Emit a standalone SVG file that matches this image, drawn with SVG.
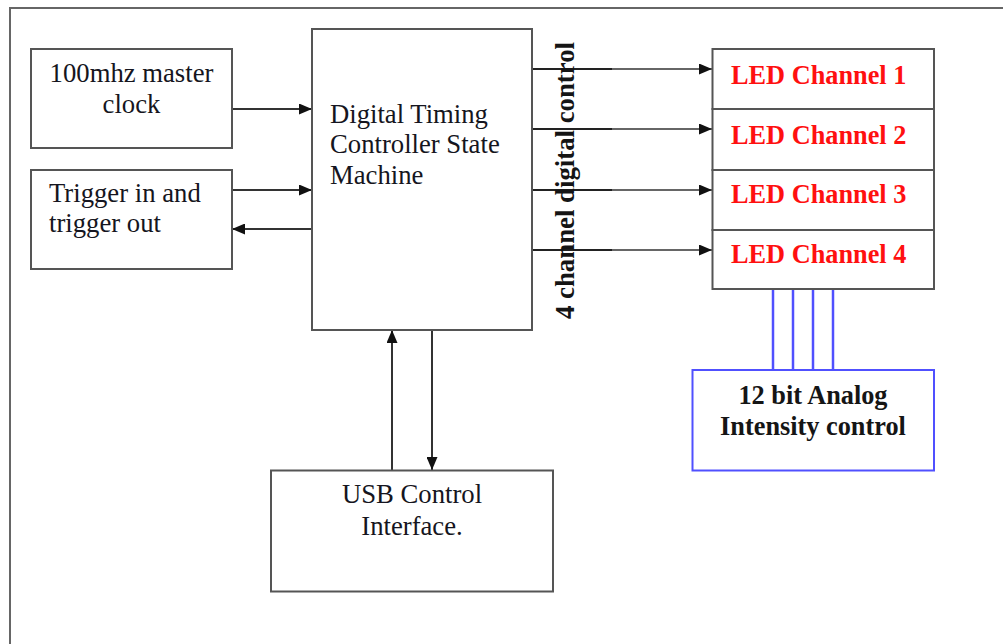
<svg xmlns="http://www.w3.org/2000/svg" width="1003" height="644" viewBox="0 0 1003 644">
<defs>
<style>
.box{fill:#fff;stroke:#555;stroke-width:2}
.frame{fill:none;stroke:#666;stroke-width:2}
.t{font-family:"Liberation Serif","Times New Roman",serif;font-size:26.7px;fill:#151520}
.b{font-family:"Liberation Serif","Times New Roman",serif;font-size:26.3px;font-weight:bold}
.red{fill:#ff1010}
.blk{fill:#151515}
.c{stroke:#333;stroke-width:2;fill:none}
.cd{stroke:#222;stroke-width:2.2;fill:none}
.cl{stroke:#666;stroke-width:2;fill:none}
.blue{stroke:#5050ff;stroke-width:2.5;fill:none}
.bluebox{fill:#fff;stroke:#5050ff;stroke-width:2}
</style>
<marker id="arr" markerUnits="userSpaceOnUse" markerWidth="13" markerHeight="11" refX="13" refY="5.5" orient="auto">
<path d="M0,0 L13,5.5 L0,11 z" fill="#111"/>
</marker>
</defs>
<rect class="frame" x="10" y="8" width="1010" height="700"/>

<g id="connectors">
<line class="c" x1="232" y1="109" x2="312" y2="109" marker-end="url(#arr)"/>
<line class="c" x1="232" y1="190" x2="312" y2="190" marker-end="url(#arr)"/>
<line class="c" x1="312" y1="229" x2="232" y2="229" marker-end="url(#arr)"/>
<line class="c" x1="392" y1="470" x2="392" y2="330" marker-end="url(#arr)"/>
<line class="c" x1="432" y1="330" x2="432" y2="470" marker-end="url(#arr)"/>
<line class="cl" x1="610" y1="69" x2="712" y2="69" marker-end="url(#arr)"/>
<line class="cl" x1="610" y1="129" x2="712" y2="129" marker-end="url(#arr)"/>
<line class="cl" x1="610" y1="190" x2="712" y2="190" marker-end="url(#arr)"/>
<line class="cl" x1="610" y1="250" x2="712" y2="250" marker-end="url(#arr)"/>
<line class="cd" x1="532" y1="69" x2="612" y2="69"/>
<line class="cd" x1="532" y1="129" x2="612" y2="129"/>
<line class="cd" x1="532" y1="190" x2="612" y2="190"/>
<line class="cd" x1="532" y1="250" x2="612" y2="250"/>
<line class="blue" x1="773" y1="289" x2="773" y2="370"/>
<line class="blue" x1="793" y1="289" x2="793" y2="370"/>
<line class="blue" x1="813" y1="289" x2="813" y2="370"/>
<line class="blue" x1="833" y1="289" x2="833" y2="370"/>
</g>

<g id="clock">
<rect class="box" x="31" y="49" width="201" height="99"/>
<text class="t" x="131.5" y="82" text-anchor="middle">100mhz master</text>
<text class="t" x="131.5" y="113" text-anchor="middle">clock</text>
</g>

<g id="trigger">
<rect class="box" x="31" y="170" width="201" height="99"/>
<text class="t" x="49" y="202">Trigger in and</text>
<text class="t" x="49" y="232">trigger out</text>
</g>

<g id="controller">
<rect class="box" x="312" y="29" width="220" height="301"/>
<text class="t" x="330" y="123">Digital Timing</text>
<text class="t" x="330" y="153">Controller State</text>
<text class="t" x="330" y="184">Machine</text>
</g>

<g id="channel-label">
<text class="b blk" transform="translate(574,319) rotate(-90)" textLength="277" lengthAdjust="spacingAndGlyphs">4 channel digital control</text>
</g>

<g id="led1">
<rect class="box" x="712.5" y="49" width="221.5" height="60"/>
<text class="b red" x="731" y="84">LED Channel 1</text>
</g>
<g id="led2">
<rect class="box" x="712.5" y="109" width="221.5" height="61"/>
<text class="b red" x="731" y="144">LED Channel 2</text>
</g>
<g id="led3">
<rect class="box" x="712.5" y="170" width="221.5" height="60"/>
<text class="b red" x="731" y="203">LED Channel 3</text>
</g>
<g id="led4">
<rect class="box" x="712.5" y="230" width="221.5" height="59"/>
<text class="b red" x="731" y="263">LED Channel 4</text>
</g>

<g id="analog">
<rect class="bluebox" x="692.5" y="370" width="241.5" height="100.5"/>
<text class="b blk" x="813" y="404" text-anchor="middle">12 bit Analog</text>
<text class="b blk" x="813" y="435" text-anchor="middle">Intensity control</text>
</g>

<g id="usb">
<rect class="box" x="271" y="470.5" width="282" height="121"/>
<text class="t" x="412" y="503" text-anchor="middle">USB Control</text>
<text class="t" x="412" y="535" text-anchor="middle">Interface.</text>
</g>
</svg>
